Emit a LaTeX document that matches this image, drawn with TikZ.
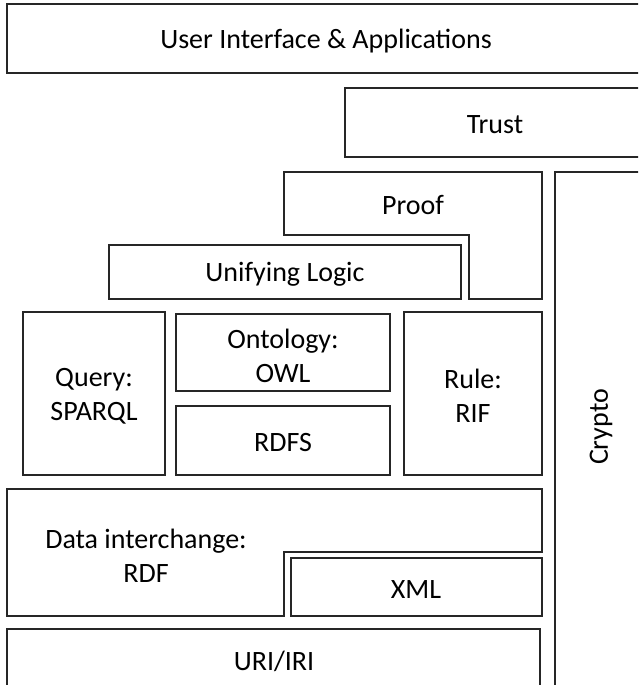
\documentclass[tikz,border=0pt]{standalone}
\usepackage{fontspec}
\setmainfont{Carlito}
\begin{document}
\begin{tikzpicture}[x=1pt,y=-1pt,
  layer/.style={draw=black!85, line width=1.5pt, line join=miter},
  lbl/.style={font=\fontsize{28}{34}\selectfont, align=center, inner sep=0pt, text=black}]
\useasboundingbox (0,0) rectangle (638,685);
\clip (0,0) rectangle (638,685);

% top layers
\draw[layer] (7,4) rectangle (645,73);
\node[lbl] (ui) at (326,41) {User Interface \& Applications};
\draw[layer] (345,88) rectangle (645,157);
\node[lbl] (trust) at (495,125) {Trust};

% proof, with the notch around unifying logic
\draw[layer] (284,172) -- (542,172) -- (542,299) -- (469,299) -- (469,235) -- (284,235) -- cycle;
\node[lbl] (proof) at (413,205) {Proof};
\draw[layer] (109,245) rectangle (461,299);
\node[lbl] (logic) at (285,274) {Unifying Logic};

% crypto column
\draw[layer] (555,172) rectangle (650,690);
\node[lbl, rotate=90] (crypto) at (601,427) {Crypto};

% query / ontology / rdfs / rule
\draw[layer] (23,312) rectangle (165,475);
\node[lbl] (query) at (94,396) {Query:\\SPARQL};
\draw[layer] (176,314) rectangle (390,391);
\node[lbl] (owl) at (283,356) {Ontology:\\OWL};
\draw[layer] (176,406) rectangle (390,475);
\node[lbl] (rdfs) at (283,443) {RDFS};
\draw[layer] (404,312) rectangle (542,475);
\node[lbl] (rule) at (473,396) {Rule:\\RIF};

% data interchange, with the notch around xml
\draw[layer] (7,489) -- (542,489) -- (542,552) -- (284,552) -- (284,616) -- (7,616) -- cycle;
\node[lbl] (rdf) at (146,556) {Data interchange:\\RDF};
\draw[layer] (291,558) rectangle (542,616);
\node[lbl] (xml) at (416,590) {XML};

% base
\draw[layer] (7,629) rectangle (540,690);
\node[lbl] (uri) at (274,661) {URI/IRI};
\end{tikzpicture}
\end{document}
